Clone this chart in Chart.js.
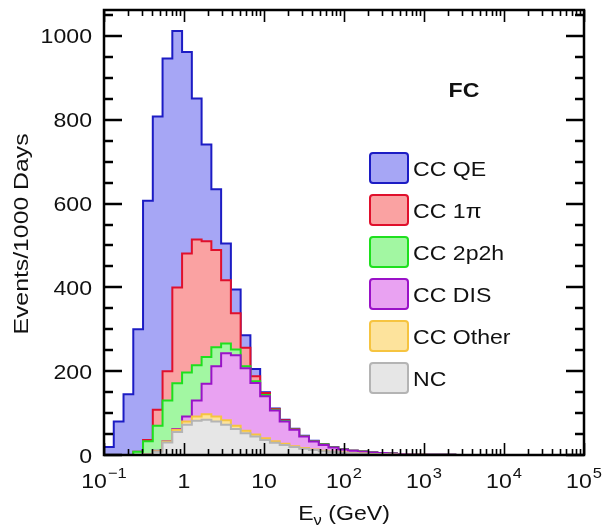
<!DOCTYPE html>
<html>
<head>
<meta charset="utf-8">
<script src="https://cdn.jsdelivr.net/npm/chart.js@4.4.1/dist/chart.umd.min.js"></script>
<style>
  html, body { margin: 0; padding: 0; background: #fff; }
  #c { display: block; }
</style>
</head>
<body>
<canvas id="c" width="608" height="529"></canvas>
<script>
// log10 bin width of the histogram, bins start at 0.1 GeV
const binStart = -1;
const binWidth = 0.122;
const nBins = 40;

// events per bin, one component per interaction type (stacked bottom -> top)
const ncEvents    = [0,0,0,0,1,8,30,55,72,82,84,80,72,62,52,44,36,29,24,19,15,12,9,7,5,4,3,2,1.5,1,0.7,0.5,0.3,0.2,0.1,0,0,0,0,0];
const ccOther     = [0,0,0,0,0,1,2,5,8,10,13,12,11,8,6,5,4,4,3,2,2,1,1,1,1,0.5,0.3,0.3,0.1,0.1,0,0,0,0,0,0,0,0,0,0];
const ccDIS       = [0,0,0,0,0,1,1,2,12,38,73,120,160,168,149,123,100,73,53,39,27,19,14,10,7,5.5,4.7,3.7,2.9,2.2,1.7,1.2,0.9,0.6,0.4,0.3,0.2,0.1,0,0];
const cc2p2h      = [0,0,0,8,32,60,97,109,105,84,64,45,23,14,5,4,3,2,1,1,1,1,1,0.5,0.5,0.3,0.2,0.1,0.1,0,0,0,0,0,0,0,0,0,0,0];
const cc1pi       = [0,0,0,0,3,38,70,229,284,300,276,232,151,86,44,12,5,2,2,1,0.5,0.5,0.3,0.2,0.2,0.1,0,0,0,0,0,0,0,0,0,0,0,0,0,0];
const ccQE        = [19,80,145,292,571,700,746,612,481,337,231,145,88,57,30,17,2,1,1,0.5,0.5,0.3,0.2,0.1,0,0,0,0,0,0,0,0,0,0,0,0,0,0,0,0];

const yMax = 1062;
const yTickValues = [0, 200, 400, 600, 800, 1000];
const xTickValues = [0.1, 1, 10, 100, 1000, 10000, 100000];
const xTickBase   = ['10', '1', '10', '10', '10', '10', '10'];
const xTickExp    = ['\u22121', '', '', '2', '3', '4', '5'];

const FONT = '"Liberation Sans", Arial, Helvetica, sans-serif';
const SX = 1.1; // text is a bit wider than Arial in the original

const edges = [];
for (let k = 0; k <= nBins; k++) edges.push(Math.pow(10, binStart + k * binWidth));

function toPoints(vals) {
  const pts = vals.map((v, i) => ({ x: edges[i], y: v }));
  pts.push({ x: edges[nBins], y: 0 });
  return pts;
}

const series = [
  { label: 'NC',       data: ncEvents, fill: 'origin', bg: '#e6e6e6', line: '#b4b4b4' },
  { label: 'CC Other', data: ccOther,  fill: '-1',     bg: '#fde39c', line: '#f6c440' },
  { label: 'CC DIS',   data: ccDIS,    fill: '-1',     bg: '#e9a2f2', line: '#9a12c8' },
  { label: 'CC 2p2h',  data: cc2p2h,   fill: '-1',     bg: '#a2f7a2', line: '#1ee01e' },
  { label: 'CC 1\u03c0', data: cc1pi,  fill: '-1',     bg: '#faa2a2', line: '#e0102c' },
  { label: 'CC QE',    data: ccQE,     fill: '-1',     bg: '#a6a6f5', line: '#1c1cc4' },
];

function text(ctx, s, x, y, font, align, rot, sx) {
  ctx.save();
  ctx.translate(x, y);
  if (rot) ctx.rotate(rot);
  ctx.scale(sx || SX, 1);
  ctx.font = font;
  ctx.textAlign = align || 'left';
  ctx.textBaseline = 'alphabetic';
  ctx.fillStyle = '#111';
  ctx.fillText(s, 0, 0);
  ctx.restore();
}
function width(ctx, s, font) {
  ctx.save(); ctx.font = font;
  const w = ctx.measureText(s).width * SX;
  ctx.restore();
  return w;
}
function seg(ctx, x1, y1, x2, y2) {
  ctx.beginPath(); ctx.moveTo(x1, y1); ctx.lineTo(x2, y2); ctx.stroke();
}

const framePlugin = {
  id: 'frame',
  afterDraw(chart) {
    const { ctx, chartArea: a, scales: { x, y } } = chart;
    ctx.save();
    ctx.strokeStyle = '#000';
    ctx.lineCap = 'butt';

    // y ticks, inward on both sides
    ctx.lineWidth = 2.5;
    for (let v = 0; v <= yMax; v += 50) {
      const py = Math.round(y.getPixelForValue(v));
      const len = v % 200 === 0 ? 18 : 9;
      seg(ctx, a.left, py, a.left + len, py);
      seg(ctx, a.right, py, a.right - len, py);
    }
    // x ticks (log), inward top and bottom
    ctx.lineWidth = 1.6;
    for (let d = -1; d <= 5; d++) {
      for (let m = 1; m <= 9; m++) {
        const val = m * Math.pow(10, d);
        if (val > 1.0001e5) break;
        const px = Math.round(x.getPixelForValue(val)) + 0.5;
        const len = m === 1 ? 12 : 6;
        seg(ctx, px, a.bottom, px, a.bottom - len);
        seg(ctx, px, a.top, px, a.top + len);
      }
    }
    ctx.lineWidth = 2.5;
    ctx.strokeRect(a.left, a.top, a.right - a.left, a.bottom - a.top);

    const f21 = '21px ' + FONT;
    const f15 = '15px ' + FONT;

    // y tick labels
    yTickValues.forEach(v => {
      text(ctx, String(v), 92, y.getPixelForValue(v) + 7.5, f21, 'right');
    });
    // x tick labels with exponents
    xTickValues.forEach((v, i) => {
      const px = x.getPixelForValue(v);
      const wb = width(ctx, xTickBase[i], f21);
      const we = xTickExp[i] ? width(ctx, xTickExp[i], f15) + 1 : 0;
      const x0 = px - (wb + we) / 2;
      text(ctx, xTickBase[i], x0, 488, f21, 'left');
      if (xTickExp[i]) text(ctx, xTickExp[i], x0 + wb + 1, 478, f15, 'left');
    });

    // axis titles
    text(ctx, 'Events/1000 Days', 28, 234, f21, 'center', -Math.PI / 2, 1.18);
    const wE = width(ctx, 'E', f21), wn = width(ctx, '\u03bd', f15), wr = width(ctx, ' (GeV)', f21);
    const tx = (a.left + a.right) / 2 - (wE + wn + wr) / 2;
    text(ctx, 'E', tx, 520, f21);
    text(ctx, '\u03bd', tx + wE, 525, f15);
    text(ctx, ' (GeV)', tx + wE + wn, 520, f21);

    // FC tag
    text(ctx, 'FC', 464, 97, 'bold 21px ' + FONT, 'center');

    // legend, top of stack first
    const ds = chart.data.datasets;
    for (let i = ds.length - 1, row = 0; i >= 0; i--, row++) {
      const by = 153 + row * 42;
      ctx.beginPath();
      ctx.roundRect(370, by, 38, 30, 3);
      ctx.fillStyle = ds[i].backgroundColor;
      ctx.fill();
      ctx.lineWidth = 2;
      ctx.strokeStyle = ds[i].borderColor;
      ctx.stroke();
      text(ctx, ds[i].label, 413, by + 22.5, f21);
    }
    ctx.restore();
  }
};

new Chart(document.getElementById('c'), {
  type: 'line',
  data: {
    datasets: series.map(s => ({
      label: s.label,
      data: toPoints(s.data),
      stepped: true,
      fill: s.fill,
      backgroundColor: s.bg,
      borderColor: s.line,
      borderWidth: 2,
      pointRadius: 0,
      borderJoinStyle: 'miter',
    })),
  },
  options: {
    responsive: false,
    animation: false,
    devicePixelRatio: 1,
    layout: { padding: { left: 104, right: 24, top: 10, bottom: 74 } },
    scales: {
      x: { type: 'logarithmic', min: 0.1, max: 1e5, display: false },
      y: { type: 'linear', min: 0, max: yMax, stacked: true, display: false },
    },
    plugins: {
      legend: { display: false },
      tooltip: { enabled: false },
    },
  },
  plugins: [framePlugin],
});
</script>
</body>
</html>
